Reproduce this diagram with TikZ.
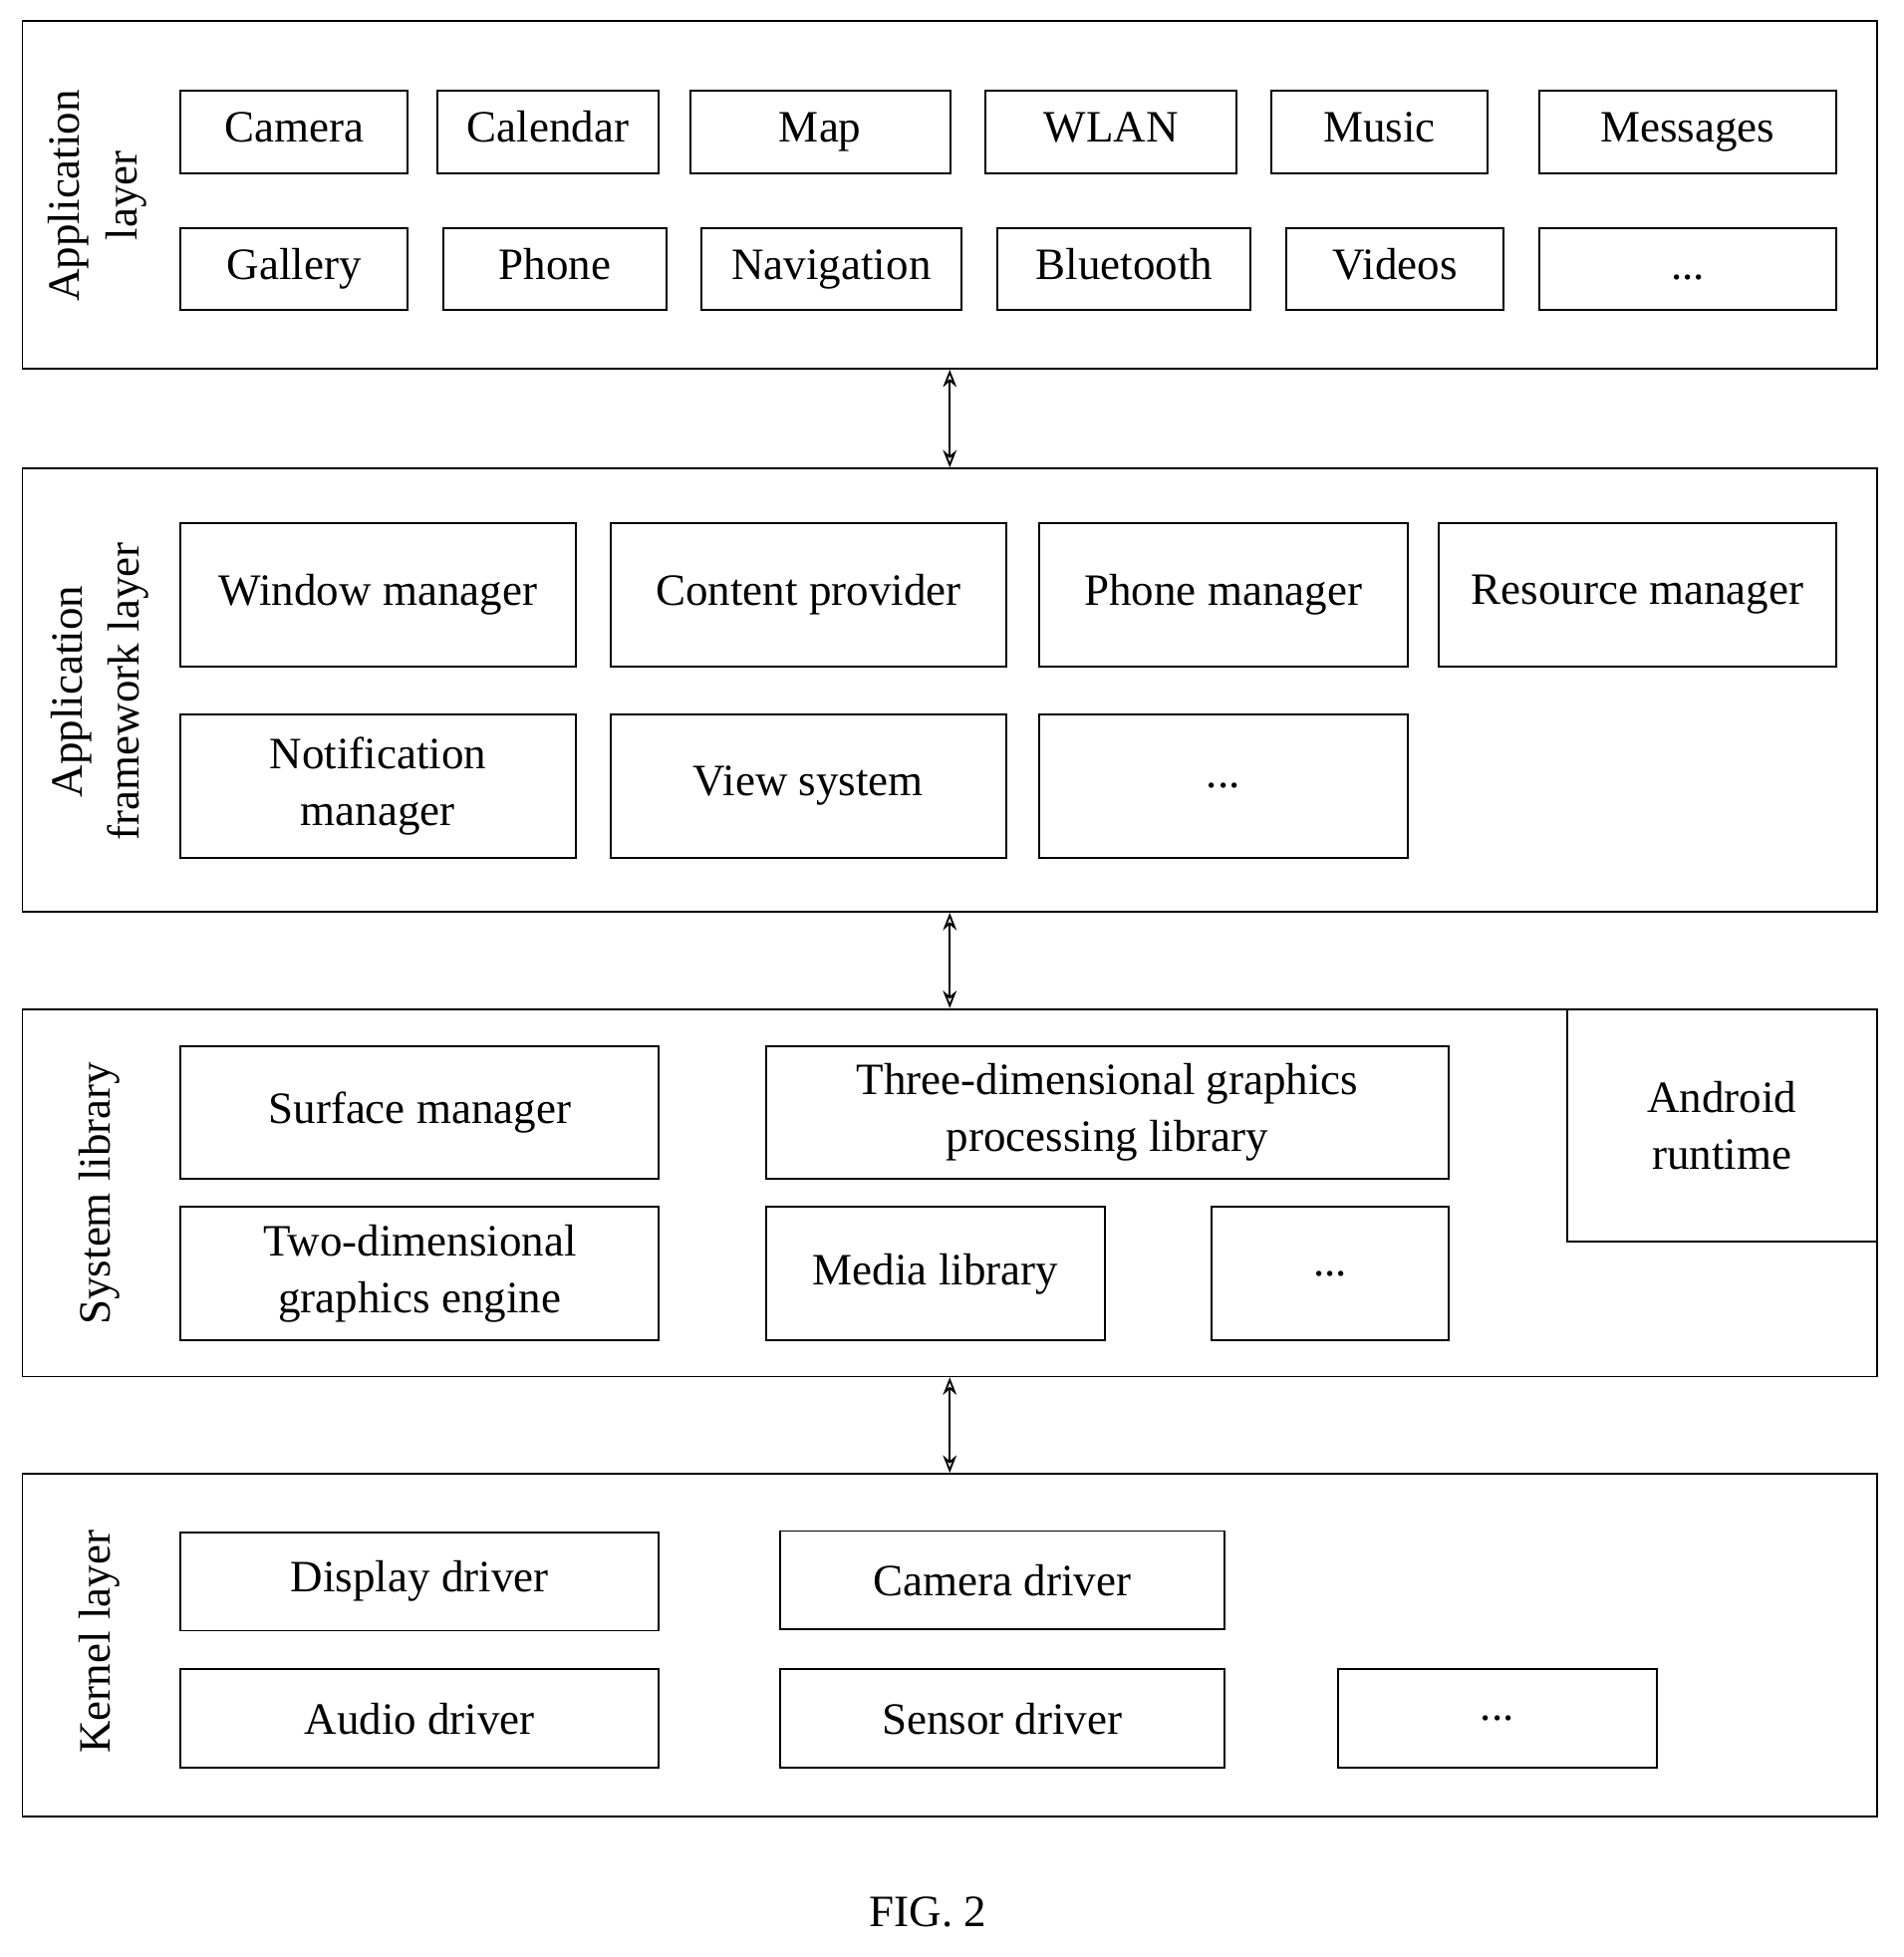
\documentclass[tikz,border=0pt]{standalone}
\usepackage{fontspec}
\setmainfont{Liberation Serif}
\usetikzlibrary{arrows.meta}
\tikzstyle{layer} = [rectangle, draw=black, line width=1.5pt, minimum width=1489pt, inner sep=0pt]
\tikzstyle{box} = [rectangle, draw=black, line width=1.5pt, inner sep=0pt, text centered, align=center]
\tikzstyle{app} = [box, minimum height=66pt, text height=24pt, text depth=8pt]
\tikzstyle{lbl} = [rotate=90, align=center]
\tikzstyle{arrow} = [line width=1.5pt, {Stealth[length=14pt,width=11pt,open]}-{Stealth[length=14pt,width=11pt,open]}]

\begin{document}
\begin{tikzpicture}[x=1pt, y=-1pt, font=\fontsize{36}{46}\selectfont]
	\useasboundingbox (0,0) rectangle (1528,1571);
	% layers
	\node (applayer) [layer, minimum height=279pt] at (762.5,156.5) {};
	\node (fw) [layer, minimum height=356pt] at (762.5,554) {};
	\node (sys) [layer, minimum height=295pt] at (762.5,957.5) {};
	\node (ker) [layer, minimum height=275pt] at (762.5,1320.5) {};
	\node (applbl) [lbl] at (78,157) {Application\\layer};
	\node (fwlbl) [lbl] at (80,555) {Application\\framework layer};
	\node (syslbl) [lbl] at (80,958) {System library};
	\node (kerlbl) [lbl] at (80,1318) {Kernel layer};
	% application layer
	\node (camera) [app, minimum width=182pt] at (236,106) {Camera};
	\node (calendar) [app, minimum width=178pt] at (440,106) {Calendar};
	\node (map) [app, minimum width=209pt] at (658.5,106) {Map};
	\node (wlan) [app, minimum width=202pt] at (892,106) {WLAN};
	\node (music) [app, minimum width=173pt] at (1107.5,106) {Music};
	\node (messages) [app, minimum width=238pt] at (1355,106) {Messages};
	\node (gallery) [app, minimum width=182pt] at (236,216) {Gallery};
	\node (phone) [app, minimum width=179pt] at (445.5,216) {Phone};
	\node (navi) [app, minimum width=209pt] at (667.5,216) {Navigation};
	\node (bt) [app, minimum width=203pt] at (902.5,216) {Bluetooth};
	\node (videos) [app, minimum width=174pt] at (1120,216) {Videos};
	\node (appmore) [app, minimum width=238pt] at (1355,216) {...};
	% framework layer
	\node (winmgr) [box, minimum width=317pt, minimum height=115pt] at (303.5,477.5) {Window manager};
	\node (content) [box, minimum width=318pt, minimum height=115pt] at (649,477.5) {Content provider};
	\node (phonemgr) [box, minimum width=296pt, minimum height=115pt] at (982,477.5) {Phone manager};
	\node (resmgr) [box, minimum width=319pt, minimum height=115pt] at (1314.5,477.5) {Resource manager};
	\node (notif) [box, minimum width=317pt, minimum height=115pt] at (303.5,631) {Notification\\manager};
	\node (view) [box, minimum width=318pt, minimum height=115pt] at (649,631) {View system};
	\node (fwmore) [box, minimum width=296pt, minimum height=115pt] at (982,631) {...};
	% system library
	\node (surface) [box, minimum width=384pt, minimum height=106pt] at (337,893) {Surface manager};
	\node (threed) [box, minimum width=548pt, minimum height=106pt] at (889,893) {Three-dimensional graphics\\processing library};
	\node (twod) [box, minimum width=384pt, minimum height=107pt] at (337,1022.5) {Two-dimensional\\graphics engine};
	\node (media) [box, minimum width=272pt, minimum height=107pt] at (751,1022.5) {Media library};
	\node (sysmore) [box, minimum width=190pt, minimum height=107pt] at (1068,1022.5) {...};
	\node (runtime) [box, minimum width=249pt, minimum height=187pt] at (1382.5,903.5) {Android\\runtime};
	% kernel layer
	\node (display) [box, minimum width=384pt, minimum height=79pt] at (337,1269.5) {Display driver};
	\node (camdrv) [box, minimum width=357pt, minimum height=79pt] at (804.5,1268.5) {Camera driver};
	\node (audio) [box, minimum width=384pt, minimum height=79pt] at (337,1379.5) {Audio driver};
	\node (sensor) [box, minimum width=357pt, minimum height=79pt] at (804.5,1379.5) {Sensor driver};
	\node (kermore) [box, minimum width=256pt, minimum height=79pt] at (1202,1379.5) {...};
	% arrows
	\draw [arrow] (applayer) -- (fw);
	\draw [arrow] (fw) -- (sys);
	\draw [arrow] (sys) -- (ker);
	\node (fig) at (745,1535) {FIG. 2};
\end{tikzpicture}
\end{document}
